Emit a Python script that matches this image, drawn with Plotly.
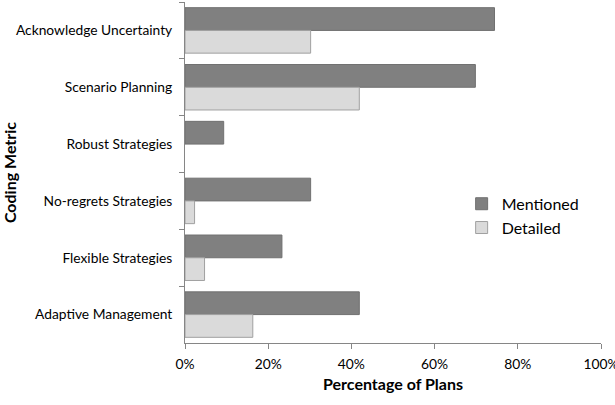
import plotly.graph_objects as go

categories = ["Acknowledge Uncertainty", "Scenario Planning", "Robust Strategies",
              "No-regrets Strategies", "Flexible Strategies", "Adaptive Management"]
mentioned = [74.4, 69.8, 9.3, 30.2, 23.3, 41.9]
detailed = [30.2, 41.9, 0.0, 2.3, 4.7, 16.3]
x_ticks = [0, 20, 40, 60, 80, 100]
x_tick_labels = ["0%", "20%", "40%", "60%", "80%", "100%"]

FONT = "Lato"
TICK_SIZE = 13.8

fig = go.Figure()
fig.add_trace(go.Bar(
    y=categories, x=mentioned, orientation="h", name="Mentioned",
    marker=dict(color="#808080",
                line=dict(color="#707070", width=[1 if v > 0 else 0 for v in mentioned])),
))
fig.add_trace(go.Bar(
    y=categories, x=detailed, orientation="h", name="Detailed",
    marker=dict(color="#dadada",
                line=dict(color="#a0a0a0", width=[1 if v > 0 else 0 for v in detailed])),
))

fig.update_layout(
    width=615, height=405,
    margin=dict(l=185, r=14, t=2, b=62),
    paper_bgcolor="white", plot_bgcolor="white",
    barmode="group", bargap=0.2, bargroupgap=0,
    font=dict(family=FONT, size=TICK_SIZE, color="#000000"),
    legend=dict(
        x=0.665, y=0.458, xanchor="left", yanchor="top",
        font=dict(family=FONT, size=16, color="#000000"),
        bgcolor="rgba(0,0,0,0)", traceorder="normal", itemwidth=30,
    ),
    xaxis=dict(
        range=[0, 100], tickvals=x_ticks, ticktext=x_tick_labels,
        showgrid=False, zeroline=False, automargin=False,
        showline=True, linecolor="#868686", linewidth=1,
        ticks="outside", ticklen=5, tickcolor="#868686",
        tickfont=dict(family=FONT, size=TICK_SIZE), ticklabelstandoff=3,
        ticklabeloverflow="allow",
        title=dict(text="<b>Percentage of Plans</b>", font=dict(family=FONT, size=16), standoff=8),
    ),
    yaxis=dict(
        categoryorder="array", categoryarray=categories, autorange="reversed",
        showgrid=False, zeroline=False, automargin=False,
        showline=True, linecolor="#868686", linewidth=1,
        ticks="outside", ticklen=5, tickcolor="#868686", tickson="boundaries",
        tickfont=dict(family=FONT, size=TICK_SIZE), ticklabelstandoff=9,
        title=dict(text="<b>Coding Metric</b>", font=dict(family=FONT, size=16), standoff=4),
    ),
)

fig.write_html("out.html")
